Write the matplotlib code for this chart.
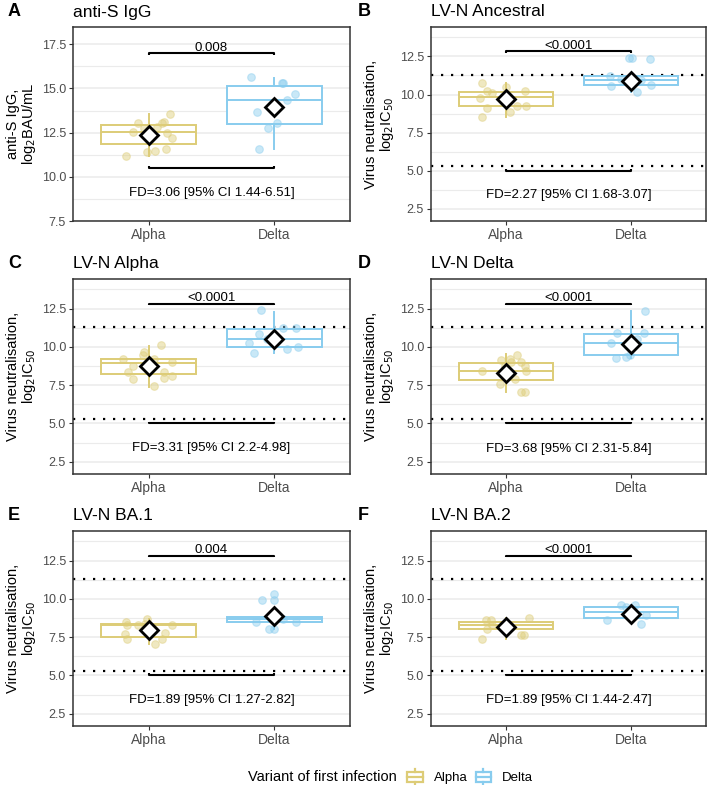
import matplotlib
matplotlib.use('Agg')
import matplotlib.pyplot as plt
from matplotlib.legend_handler import HandlerBase
from matplotlib.patches import Rectangle
from matplotlib.lines import Line2D
from matplotlib.ticker import MultipleLocator, FormatStrFormatter

plt.rcParams['font.family'] = ['Liberation Sans', 'DejaVu Sans']

groups = ['Alpha', 'Delta']
group_colors = ['#DDCC77', '#88CCEE']
panel_letters = ['A', 'B', 'C', 'D', 'E', 'F']
panel_titles = ['anti-S IgG', 'LV-N Ancestral', 'LV-N Alpha', 'LV-N Delta', 'LV-N BA.1', 'LV-N BA.2']
p_values = ['0.008', '<0.0001', '<0.0001', '<0.0001', '0.004', '<0.0001']
fd_labels = ['FD=3.06 [95% CI 1.44-6.51]', 'FD=2.27 [95% CI 1.68-3.07]',
             'FD=3.31 [95% CI 2.2-4.98]', 'FD=3.68 [95% CI 2.31-5.84]',
             'FD=1.89 [95% CI 1.27-2.82]', 'FD=1.89 [95% CI 1.44-2.47]']
ylabels = ['anti-S IgG,\nlog$_2$BAU/mL'] + ['Virus neutralisation,\nlog$_2$IC$_{50}$'] * 5
lod_lines = [5.32, 11.29]

# individual values and horizontal jitter offsets
A_alpha = [11.18, 11.42, 11.48, 11.56, 12.56, 13.03, 12.84, 13.03, 13.12, 13.54, 12.46, 12.18, 12.75]
A_alpha_jit = [-0.18, -0.01, 0.05, 0.14, -0.12, -0.08, 0.07, 0.11, 0.12, 0.17, 0.15, 0.19, -0.04]
A_delta = [15.63, 15.29, 15.33, 14.67, 14.35, 13.69, 13.07, 12.75, 11.56]
A_delta_jit = [-0.19, 0.07, 0.06, 0.16, 0.10, -0.14, 0.02, -0.05, -0.12]

B_alpha = [10.75, 10.49, 10.21, 10.10, 9.77, 9.12, 8.83, 8.50, 10.21, 9.27, 9.22, 9.66]
B_alpha_jit = [-0.19, 0.0, -0.15, -0.11, -0.21, -0.15, 0.03, -0.19, 0.15, 0.16, 0.09, 0.0]
B_delta = [12.39, 12.39, 12.35, 10.54, 10.17, 10.64, 11.23, 11.00, 10.97]
B_delta_jit = [-0.02, 0.005, 0.15, -0.16, 0.05, 0.16, -0.17, -0.08, 0.08]

C_alpha = [10.10, 9.66, 9.44, 9.22, 9.22, 9.04, 8.78, 8.34, 7.90, 7.42, 8.39, 7.95, 8.08]
C_alpha_jit = [0.10, -0.04, -0.045, -0.20, 0.04, 0.185, -0.12, -0.16, -0.12, 0.04, 0.12, 0.125, 0.185]
C_delta = [12.39, 9.61, 10.27, 10.86, 11.23, 11.23, 9.87, 9.98, 10.75, 10.49]
C_delta_jit = [-0.11, -0.16, -0.20, -0.12, 0.07, 0.17, 0.10, 0.19, 0.0, -0.06]

D_alpha = [9.50, 9.22, 9.15, 9.00, 8.78, 8.45, 8.41, 7.90, 7.58, 7.03, 7.03, 8.78, 9.00]
D_alpha_jit = [0.09, 0.03, -0.04, 0.12, 0.15, 0.16, -0.19, 0.07, -0.05, 0.12, 0.15, -0.01, 0.04]
D_delta = [12.35, 10.90, 10.25, 9.26, 9.33, 9.44, 10.92, 10.53]
D_delta_jit = [0.11, 0.10, -0.16, -0.12, -0.04, -0.01, -0.11, 0.05]

E_alpha = [8.50, 8.28, 7.70, 7.41, 8.28, 8.71, 7.05, 7.41, 7.74, 8.28, 8.39, 7.95]
E_alpha_jit = [-0.18, -0.17, -0.185, -0.17, -0.085, -0.01, 0.05, 0.11, 0.13, 0.185, -0.03, 0.045]
E_delta = [10.34, 9.90, 9.90, 8.02, 8.02, 8.50, 8.50, 8.71]
E_delta_jit = [-0.005, 0.0, -0.10, -0.04, 0.0, -0.15, 0.17, 0.07]

F_alpha = [7.37, 8.06, 8.60, 8.60, 8.39, 7.63, 7.63, 8.78, 8.28, 8.17]
F_alpha_jit = [-0.19, -0.15, -0.16, -0.12, -0.01, 0.12, 0.14, 0.18, -0.11, 0.04]
F_delta = [8.60, 9.58, 9.47, 9.58, 8.39, 8.93, 9.25]
F_delta_jit = [-0.19, -0.08, -0.04, 0.03, 0.08, 0.12, -0.02]

# box statistics per panel: [whisker low, Q1, median, Q3, whisker high]
box_alpha = [[11.18, 11.84, 12.52, 12.92, 13.54],
             [8.55, 9.22, 9.81, 10.14, 10.75],
             [7.36, 8.23, 8.96, 9.22, 10.05],
             [7.03, 7.84, 8.41, 8.93, 9.55],
             [7.05, 7.48, 8.28, 8.34, 8.71],
             [7.41, 8.02, 8.28, 8.50, 8.78]]
box_delta = [[11.56, 12.99, 14.35, 15.14, 15.58],
             [10.17, 10.64, 10.97, 11.23, 11.35],
             [9.61, 9.98, 10.53, 11.14, 12.28],
             [9.26, 9.44, 10.25, 10.86, 12.35],
             [8.02, 8.50, 8.67, 8.82, 9.00],
             [8.43, 8.78, 9.15, 9.47, 9.60]]
mean_alpha = [12.37, 9.70, 8.74, 8.30, 7.95, 8.17]
mean_delta = [13.93, 10.91, 10.49, 10.20, 8.86, 9.04]

# annotation y values
bracket_top = [17.0, 12.85, 12.83, 12.83, 12.82, 12.82]
bracket_bottom = [10.5, 5.0, 5.0, 5.0, 5.03, 5.0]
fd_y = [9.1, 3.42, 3.38, 3.35, 3.41, 3.4]
ylims = [(7.5, 18.48), (1.7, 14.43), (1.7, 14.43), (1.7, 14.43), (1.7, 14.43), (1.7, 14.43)]

points_alpha = [(A_alpha, A_alpha_jit), (B_alpha, B_alpha_jit), (C_alpha, C_alpha_jit),
                (D_alpha, D_alpha_jit), (E_alpha, E_alpha_jit), (F_alpha, F_alpha_jit)]
points_delta = [(A_delta, A_delta_jit), (B_delta, B_delta_jit), (C_delta, C_delta_jit),
                (D_delta, D_delta_jit), (E_delta, E_delta_jit), (F_delta, F_delta_jit)]

W, H = 709, 785
fig = plt.figure(figsize=(W / 100, H / 100), dpi=100)

cols = [(73, 350), (431, 706)]
rows = [(27, 221), (279, 474), (531, 726)]

BORDER = '#333333'
GRID = '#EBEBEB'

for i in range(6):
    r, c = divmod(i, 2)
    x0, x1 = cols[c]
    y0, y1 = rows[r]
    ax = fig.add_axes([x0 / W, 1 - y1 / H, (x1 - x0) / W, (y1 - y0) / H])

    if i > 0:
        for yl in lod_lines:
            ax.axhline(yl, color='black', lw=1.6, ls=(0, (1, 3.5)), zorder=1)

    stats = [box_alpha[i], box_delta[i]]
    pts = [points_alpha[i], points_delta[i]]
    means = [mean_alpha[i], mean_delta[i]]
    for g in range(2):
        col = group_colors[g]
        wlo, q1, med, q3, whi = stats[g]
        bxp_stats = [dict(whislo=wlo, q1=q1, med=med, q3=q3, whishi=whi, fliers=[])]
        ax.bxp(bxp_stats, positions=[g + 1], widths=0.75, showcaps=False, showfliers=False,
               patch_artist=True, manage_ticks=False,
               boxprops=dict(facecolor='white', edgecolor=col, linewidth=1.4),
               medianprops=dict(color=col, linewidth=1.4),
               whiskerprops=dict(color=col, linewidth=1.4), zorder=2)
        vals, jit = pts[g]
        ax.plot([g + 1 + j for j in jit], vals, 'o', color=col, alpha=0.45, ms=5.5,
                mec=col, mew=0.8, zorder=3)
        ax.plot([g + 1], [means[g]], 'D', mfc='white', mec='black', mew=2.0, ms=9, zorder=5)

    # brackets
    span = ylims[i][1] - ylims[i][0]
    tip = span * 0.008
    ax.plot([1, 1, 2, 2], [bracket_top[i] - tip, bracket_top[i], bracket_top[i], bracket_top[i] - tip],
            color='black', lw=1.5, zorder=4, solid_capstyle='butt')
    ax.plot([1, 1, 2, 2], [bracket_bottom[i] + tip, bracket_bottom[i], bracket_bottom[i], bracket_bottom[i] + tip],
            color='black', lw=1.5, zorder=4, solid_capstyle='butt')
    ax.text(1.5, bracket_top[i] - span * 0.004, p_values[i], ha='center', va='bottom', fontsize=9.5,
            color='black', zorder=6)
    ax.text(1.5, fd_y[i], fd_labels[i], ha='center', va='center', fontsize=9.5, color='black')

    ax.set_xlim(0.4, 2.6)
    ax.set_ylim(*ylims[i])
    ax.set_xticks([1, 2])
    ax.set_xticklabels(groups)
    ax.yaxis.set_major_locator(MultipleLocator(2.5))
    ax.yaxis.set_minor_locator(MultipleLocator(1.25))
    ax.yaxis.set_major_formatter(FormatStrFormatter('%.1f'))
    ax.grid(True, which='major', axis='y', color=GRID, lw=1.1, zorder=0)
    ax.grid(True, which='minor', axis='y', color=GRID, lw=0.8, zorder=0)
    ax.set_axisbelow(True)
    for s in ax.spines.values():
        s.set_color(BORDER)
        s.set_linewidth(1.1)
    ax.tick_params(axis='both', which='major', length=3, width=0.8, color=BORDER,
                   labelcolor='#4D4D4D', labelsize=9, pad=2)
    ax.tick_params(axis='x', which='major', labelsize=10)
    ax.tick_params(axis='y', which='minor', length=0)
    ax.set_ylabel(ylabels[i], fontsize=10.5, labelpad=3, linespacing=1.0)

    # titles and panel letters
    ty = y0 - 15
    fig.text(x0 / W, 1 - ty / H, panel_titles[i], fontsize=12.5, ha='left', va='center')
    fig.text((x0 - 65 if c == 0 else x0 - 73) / W, 1 - ty / H, panel_letters[i],
             fontsize=13, fontweight='bold', ha='left', va='center')


class BoxHandler(HandlerBase):
    def create_artists(self, legend, orig_handle, xdescent, ydescent, width, height, fontsize, trans):
        col = orig_handle.get_color()
        x0 = -xdescent
        y0 = -ydescent
        rect = Rectangle((x0 + 0.08 * width, y0 + 0.22 * height), 0.84 * width, 0.56 * height,
                         facecolor='white', edgecolor=col, lw=1.6, transform=trans)
        med = Line2D([x0 + 0.08 * width, x0 + 0.92 * width], [y0 + 0.5 * height] * 2,
                     color=col, lw=1.6, transform=trans)
        wt = Line2D([x0 + 0.5 * width] * 2, [y0 + 0.78 * height, y0 + 1.0 * height],
                    color=col, lw=1.6, transform=trans)
        wb = Line2D([x0 + 0.5 * width] * 2, [y0, y0 + 0.22 * height],
                    color=col, lw=1.6, transform=trans)
        return [rect, med, wt, wb]


handles = [Line2D([], [], color=group_colors[g]) for g in range(2)]
fig.text(248 / W, 1 - 777 / H, 'Variant of first infection', fontsize=10.5, ha='left', va='center')
leg = fig.legend(handles, groups, loc='center left', bbox_to_anchor=(406 / W, 1 - 777 / H),
                 ncol=2, frameon=False, fontsize=9.5, handlelength=1.4, handleheight=1.5,
                 handletextpad=0.7, columnspacing=0.5, borderaxespad=0, borderpad=0,
                 handler_map={Line2D: BoxHandler()})

fig.savefig('out.png', dpi=100)
